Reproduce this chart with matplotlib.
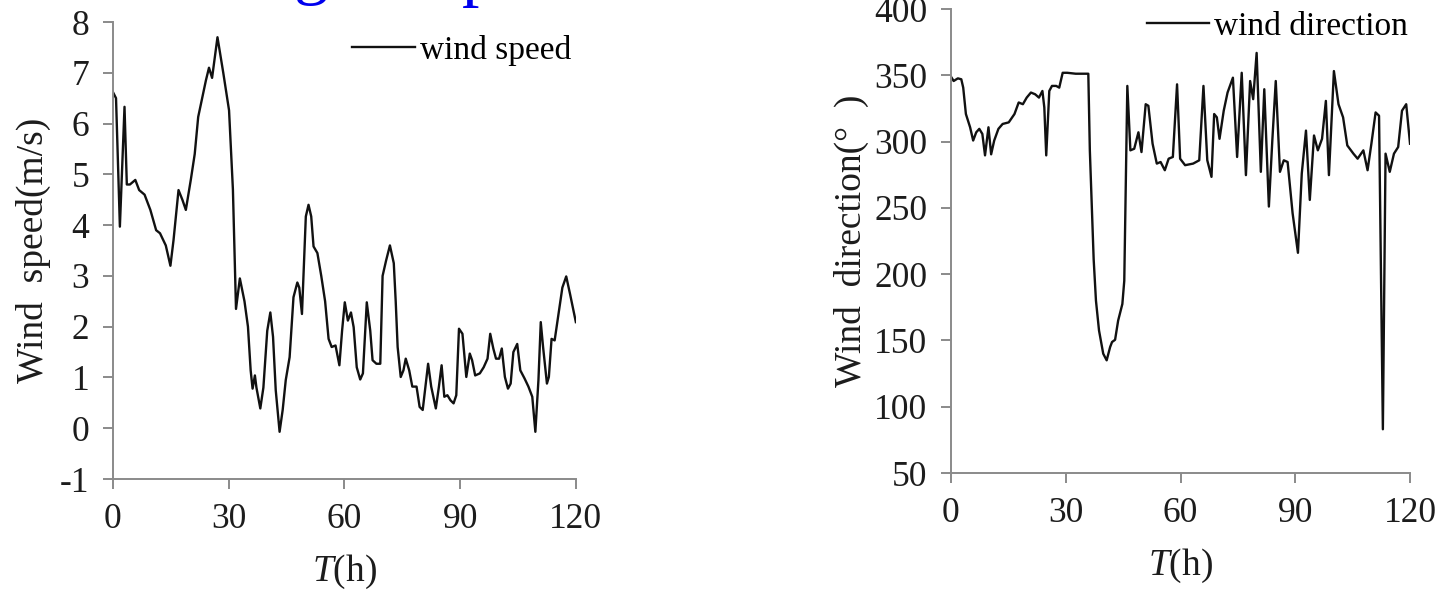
import numpy as np
import matplotlib
matplotlib.use('Agg')
import matplotlib.pyplot as plt

plt.rcParams['font.family'] = ['Liberation Serif', 'DejaVu Serif']
plt.rcParams['mathtext.fontset'] = 'custom'
plt.rcParams['mathtext.it'] = 'Liberation Serif:italic'
plt.rcParams['mathtext.rm'] = 'Liberation Serif'
plt.rcParams['axes.unicode_minus'] = False

# wind speed (m/s)
t_speed = [0, 0.8, 1.8, 3.0, 3.6, 4.4, 5.8, 6.8, 8.2, 9.7, 11.2, 12.2, 13.7, 14.9, 15.7,
           17.0, 18.0, 18.9, 20.2, 21.2, 22.1, 24.1, 24.9, 25.7, 27.1, 28.6, 30.1, 31.1,
           31.9, 32.9, 34.1, 35.0, 35.7, 36.2, 36.8, 37.2, 38.2, 39.0, 40.0, 40.8, 41.5,
           42.2, 43.2, 44.0, 44.8, 45.8, 46.8, 47.8, 48.3, 49.0, 50.0, 50.7, 51.4, 52.0,
           53.0, 54.0, 55.0, 55.9, 56.7, 57.7, 58.7, 59.4, 60.1, 60.9, 61.7, 62.4, 63.2,
           64.1, 64.8, 65.8, 66.7, 67.3, 68.3, 69.3, 69.9, 70.8, 71.8, 72.8, 73.3, 73.8,
           74.6, 75.3, 75.9, 76.8, 77.6, 78.7, 79.5, 80.3, 80.9, 81.7, 82.5, 83.7, 84.5,
           85.2, 85.9, 86.7, 87.5, 88.3, 89.0, 89.7, 90.6, 91.6, 92.5, 93.1, 93.9, 95.1,
           96.1, 97.1, 97.8, 98.6, 99.3, 100.1, 100.8, 101.6, 102.4, 103.1, 103.8, 104.8,
           105.6, 106.7, 107.7, 108.7, 109.5, 110.3, 110.9, 111.5, 112.5, 113.0, 113.7,
           114.5, 115.5, 116.5, 117.5, 118.5, 120.0]
speed = [6.62, 6.5, 3.97, 6.33, 4.8, 4.8, 4.89, 4.69, 4.6, 4.3, 3.9, 3.84, 3.6, 3.2, 3.7,
         4.69, 4.5, 4.3, 4.9, 5.4, 6.13, 6.85, 7.1, 6.9, 7.7, 7.0, 6.26, 4.7,
         2.35, 2.95, 2.5, 2.0, 1.14, 0.78, 1.04, 0.8, 0.39, 0.8, 1.92, 2.28, 1.8,
         0.75, -0.07, 0.36, 0.95, 1.4, 2.58, 2.87, 2.77, 2.25, 4.17, 4.4, 4.17, 3.58,
         3.45, 3.0, 2.5, 1.76, 1.6, 1.63, 1.24, 1.92, 2.48, 2.12, 2.28, 1.99, 1.2,
         0.96, 1.08, 2.48, 1.92, 1.34, 1.27, 1.27, 3.0, 3.3, 3.6, 3.25, 2.5, 1.6,
         1.01, 1.14, 1.37, 1.14, 0.82, 0.82, 0.42, 0.36, 0.75, 1.27, 0.82, 0.39, 0.82,
         1.24, 0.62, 0.65, 0.55, 0.49, 0.65, 1.96, 1.86, 1.01, 1.47, 1.34, 1.04, 1.08,
         1.2, 1.37, 1.86, 1.57, 1.37, 1.37, 1.57, 1.01, 0.78, 0.88, 1.5, 1.66,
         1.14, 0.98, 0.82, 0.62, -0.07, 0.95, 2.09, 1.6, 0.88, 1.01, 1.76,
         1.73, 2.25, 2.77, 2.99, 2.64, 2.09]

# wind direction (degrees)
t_dir = [0, 0.7, 1.8, 2.7, 3.2, 3.9, 5.0, 5.8, 6.6, 7.4, 8.2, 8.9, 9.8, 10.5, 11.3, 12.4,
         13.5, 15.1, 16.6, 17.7, 18.8, 19.8, 20.9, 22.0, 23.0, 23.9, 24.4, 24.9, 25.7,
         26.4, 27.5, 28.3, 29.2, 30.4, 32.6, 35.9, 36.3, 37.3, 37.9, 38.7, 39.8, 40.7,
         41.6, 42.1, 42.9, 43.7, 44.8, 45.3, 46.1, 46.9, 47.9, 49.0, 49.8, 50.9, 51.6,
         52.7, 53.8, 54.8, 55.9, 56.9, 58.0, 59.1, 59.9, 61.2, 63.3, 64.9, 66.0, 67.0,
         68.1, 68.8, 69.5, 70.2, 71.3, 72.3, 73.7, 74.8, 76.0, 77.1, 78.2, 79.0, 79.9,
         81.0, 81.9, 83.1, 84.0, 84.9, 86.0, 87.0, 88.0, 89.3, 90.7, 91.7, 92.8, 93.8,
         94.9, 95.9, 97.0, 98.0, 98.8, 100.1, 101.3, 102.5, 103.6, 105.2, 106.3, 107.8,
         108.9, 109.9, 111.0, 111.9, 112.9, 113.6, 114.7, 115.8, 116.9, 117.9, 119.0, 120.0]
direction = [349, 345.7, 347.7, 347, 340.7, 320.8, 310.8, 300.8, 307, 309.6, 305.8, 289.6,
             310.8, 290.4, 300.8, 309.6, 313.3, 314.5, 320.8, 329.5, 328.2, 333.2, 337,
             335.7, 333.2, 338.2, 325.8, 289.6, 338.2, 342, 342, 340.7, 351.9, 351.9,
             351.2, 351.2, 293.4, 211.2, 180, 157.5, 140, 135, 145, 148.8, 150.5, 165,
             177.5, 195, 342, 293.4, 294.6, 307, 292.1, 328.2, 327, 298.4, 283.4, 284.6,
             278.4, 287.1, 288.4, 343.2, 287.1, 282.2, 283.4, 285.9, 342, 285.9, 273.4,
             320.8, 318.3, 302.1, 323.3, 337, 348.2, 288.4, 351.9, 274.7, 345.7, 332,
             366.9, 277.2, 339.5, 251, 300.8, 345.7, 277.2, 285.9, 284.6, 246, 216.1,
             275.9, 308.3, 256, 304.6, 293.4, 302.1, 330.7, 274.7, 353.2, 328.2, 318.3,
             297.1, 290.9, 287.1, 293.4, 278.4, 298.4, 322, 319.5, 83, 290.9, 277.2,
             290.9, 295.9, 323.3, 328.2, 298.4]

x_ticks = [0, 30, 60, 90, 120]
speed_ticks = [-1, 0, 1, 2, 3, 4, 5, 6, 7, 8]
dir_ticks = [50, 100, 150, 200, 250, 300, 350, 400]

fig = plt.figure(figsize=(14.35, 5.9), dpi=100)
ax1 = fig.add_axes([0.0787, 0.1881, 0.3226, 0.7746])
ax2 = fig.add_axes([0.6627, 0.1983, 0.3199, 0.7864])

grey = '#8a8a8a'
ink = '#1c1c1c'


def style(ax):
    for s in ['top', 'right']:
        ax.spines[s].set_visible(False)
    for s in ['left', 'bottom']:
        ax.spines[s].set_color(grey)
        ax.spines[s].set_linewidth(1.4)
    ax.tick_params(axis='both', direction='out', length=7, width=1.4, color=grey,
                   labelsize=25.5, labelcolor=ink)
    ax.tick_params(axis='y', pad=10)
    ax.tick_params(axis='x', pad=10)
    ax.set_xlim(0, 120)
    ax.set_xticks(x_ticks)


ax1.plot(t_speed, speed, color='#111111', lw=1.7, label='wind speed')
style(ax1)
ax1.set_ylim(-1, 8)
ax1.set_yticks(speed_ticks)
ax1.set_xlabel('$T$(h)', fontsize=27, color=ink, labelpad=12)
ax1.set_ylabel('Wind  speed(m/s)', fontsize=27, color=ink, labelpad=6)
ax1.legend(loc='upper left', bbox_to_anchor=(0.516, 0.972), frameon=False, fontsize=24,
           handlelength=1.9, handletextpad=0.15, borderpad=0, borderaxespad=0)

ax2.plot(t_dir, direction, color='#111111', lw=1.7, label='wind direction')
style(ax2)
ax2.set_ylim(50, 400)
ax2.set_yticks(dir_ticks)
ax2.set_xlabel('$T$(h)', fontsize=27, color=ink, labelpad=12)
ax2.set_ylabel('Wind  direction(\u00b0  )', fontsize=27, color=ink, labelpad=4)
ax2.legend(loc='upper left', bbox_to_anchor=(0.427, 0.995), frameon=False, fontsize=24,
           handlelength=1.85, handletextpad=0.15, borderpad=0, borderaxespad=0)

# clipped blue heading at the very top of the page
fig.text(0.205, 1.015, 'g', color='#0000ee', fontsize=50, va='baseline')
fig.text(0.322, 1.012, 'p', color='#0000ee', fontsize=50, va='baseline')

fig.savefig('out.png', dpi=100)
